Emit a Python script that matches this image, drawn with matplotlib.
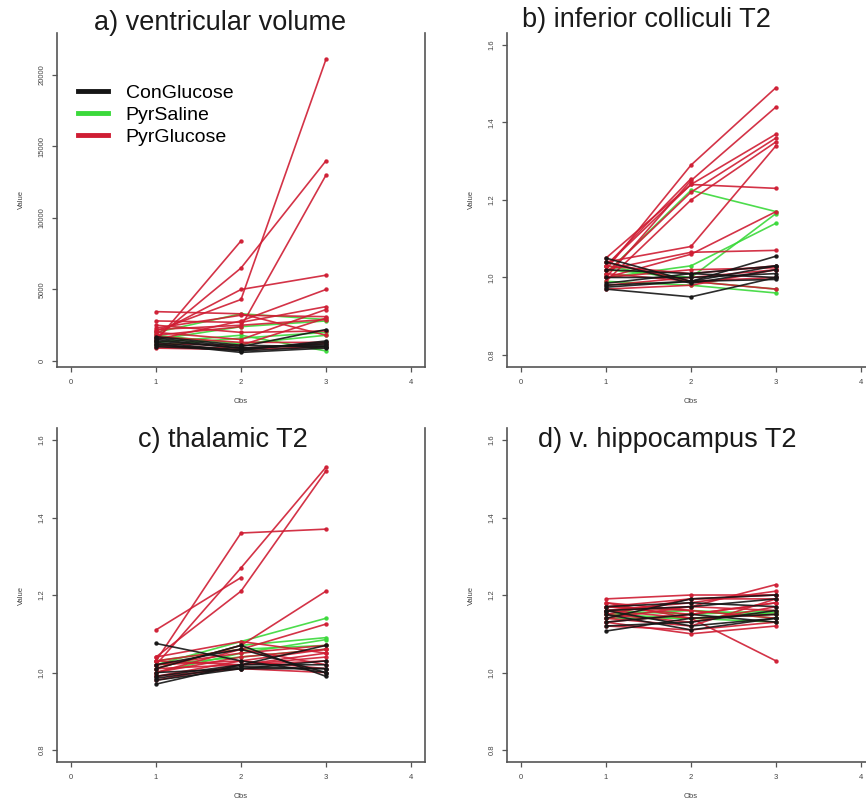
import numpy as np
import matplotlib
matplotlib.use("Agg")
import matplotlib.pyplot as plt
from matplotlib.lines import Line2D

plt.rcParams['font.family'] = ['Liberation Sans', 'DejaVu Sans']

nan = np.nan
obs = [1, 2, 3]

# group names and line colours
groups = ['ConGlucose', 'PyrSaline', 'PyrGlucose']
colours = {'ConGlucose': '#151515', 'PyrSaline': '#3ad93a', 'PyrGlucose': '#cf1d33'}

# a) ventricular volume, one row per animal, columns = Obs 1..3
vent_con = [[1500, 900, 1200], [1300, 700, 1000], [1100, 800, 1300], [1600, 1000, 2200],
            [1200, 600, 900], [1400, 900, 1100], [1000, 750, 1400], [1700, 1100, 1000]]
vent_sal = [[2000, 3300, 2900], [1500, 2400, 2800], [1300, 1800, 700],
            [1100, 1600, 2000], [1800, 1200, 1800]]
vent_pyr = [[1400, 8400, nan], [1600, 6500, 14000], [2100, 4300, 21100], [1800, 2400, 13000],
            [1900, 5000, 6000], [1500, 2800, 5000], [3450, 3300, 1800], [2800, 2700, 3800],
            [2300, 3200, 3100], [2000, 1500, 3600], [1200, 1100, 3000], [1000, 900, 1200],
            [2500, 2000, 2100], [1700, 1300, 1300], [900, 800, 1000], [2200, 2500, 2900]]

# b) inferior colliculi T2
ic_con = [[0.97, 0.95, 1.00], [0.98, 0.99, 1.055], [1.05, 0.99, 1.03], [0.985, 1.01, 1.00],
          [1.00, 1.00, 1.01], [0.975, 0.99, 0.995], [1.04, 0.985, 1.02], [1.02, 1.01, 1.03]]
ic_sal = [[1.01, 1.225, 1.17], [1.00, 1.03, 1.14], [0.99, 0.98, 0.96],
          [1.02, 1.00, 1.165], [1.03, 0.99, 0.97]]
ic_pyr = [[1.03, 1.255, nan], [1.02, 1.29, 1.49], [1.00, 1.25, 1.44], [1.03, 1.24, 1.37],
          [1.01, 1.22, 1.36], [0.99, 1.20, 1.35], [1.04, 1.08, 1.34], [1.05, 1.24, 1.23],
          [1.02, 1.065, 1.07], [1.00, 1.06, 1.17], [1.03, 1.01, 1.03], [1.01, 0.99, 0.97],
          [0.98, 1.00, 1.02], [1.04, 0.99, 1.00], [1.00, 1.02, 1.025], [0.97, 0.98, 1.02]]

# c) thalamic T2
th_con = [[1.075, 1.03, 1.00], [0.97, 1.02, 1.02], [0.98, 1.01, 1.01], [1.01, 1.07, 0.99],
          [1.00, 1.01, 1.03], [0.99, 1.02, 1.07], [1.02, 1.06, 1.00], [0.985, 1.015, 1.01]]
th_sal = [[1.02, 1.08, 1.14], [1.01, 1.07, 1.09], [1.00, 1.05, 1.085],
          [1.03, 1.06, 1.07], [1.02, 1.04, 1.06]]
th_pyr = [[1.11, 1.245, nan], [1.03, 1.36, 1.37], [1.02, 1.27, 1.53], [1.04, 1.21, 1.52],
          [1.01, 1.07, 1.21], [1.00, 1.06, 1.125], [1.02, 1.05, 1.07], [0.99, 1.03, 1.06],
          [1.03, 1.02, 1.05], [1.00, 1.04, 1.06], [1.02, 1.03, 1.01], [0.98, 1.02, 1.03],
          [1.04, 1.08, 1.05], [1.01, 1.02, 1.04], [1.03, 1.06, 1.02], [0.99, 1.01, 1.00]]

# d) v. hippocampus T2
hc_con = [[1.107, 1.14, 1.15], [1.14, 1.19, 1.20], [1.16, 1.12, 1.14], [1.15, 1.11, 1.14],
          [1.13, 1.15, 1.13], [1.17, 1.18, 1.17], [1.12, 1.13, 1.16], [1.16, 1.17, 1.19]]
hc_sal = [[1.15, 1.16, 1.14], [1.16, 1.15, 1.16], [1.14, 1.14, 1.13],
          [1.17, 1.16, 1.15], [1.15, 1.14, 1.155]]
hc_pyr = [[1.17, 1.16, nan], [1.19, 1.20, 1.20], [1.18, 1.14, 1.03], [1.16, 1.17, 1.227],
          [1.15, 1.19, 1.20], [1.14, 1.12, 1.19], [1.17, 1.15, 1.18], [1.13, 1.10, 1.12],
          [1.16, 1.18, 1.21], [1.15, 1.13, 1.17], [1.18, 1.16, 1.14], [1.14, 1.17, 1.16],
          [1.12, 1.11, 1.13], [1.17, 1.19, 1.19], [1.16, 1.14, 1.15], [1.13, 1.15, 1.18]]

panels = [
    ('a) ventricular volume', vent_con, vent_sal, vent_pyr),
    ('b) inferior colliculi T2', ic_con, ic_sal, ic_pyr),
    ('c) thalamic T2', th_con, th_sal, th_pyr),
    ('d) v. hippocampus T2', hc_con, hc_sal, hc_pyr),
]

x_ticks = [0, 1, 2, 3, 4]
vent_ticks = [0, 5000, 10000, 15000, 20000]
t2_ticks = [0.8, 1.0, 1.2, 1.4, 1.6]

fig = plt.figure(figsize=(8.66, 8.08), dpi=100)
pos = [[0.0663, 0.5458, 0.424, 0.4134], [0.5859, 0.5458, 0.424, 0.4134],
       [0.0663, 0.0569, 0.424, 0.4134], [0.5859, 0.0569, 0.424, 0.4134]]
title_xy = [(220, 23), (646, 20), (223, 440), (667, 440)]

for i, (title, con, sal, pyr) in enumerate(panels):
    ax = fig.add_axes(pos[i])
    for name, rows in (('PyrSaline', sal), ('PyrGlucose', pyr), ('ConGlucose', con)):
        for r in rows:
            ax.plot(obs, r, color=colours[name], lw=1.2, marker='o', ms=2.2,
                    alpha=0.9, solid_joinstyle='round')

    ax.set_xlim(-0.16, 4.16)
    ax.set_xticks(x_ticks)
    ax.set_xticklabels([str(t) for t in x_ticks])
    if i == 0:
        ax.set_ylim(-420, 22937)
        ax.set_yticks(vent_ticks)
        ax.set_yticklabels([str(t) for t in vent_ticks], rotation=90, va='center')
    else:
        ax.set_ylim(0.769, 1.631)
        ax.set_yticks(t2_ticks)
        ax.set_yticklabels(['%.1f' % t for t in t2_ticks], rotation=90, va='center')

    ax.spines['top'].set_visible(False)
    for s in ('left', 'bottom', 'right'):
        ax.spines[s].set_color('#555555')
        ax.spines[s].set_linewidth(1.2)
    ax.tick_params(axis='both', direction='out', length=3.5, width=0.9,
                   color='#555555', labelsize=5.5, labelcolor='#444444', pad=5)
    ax.tick_params(axis='y', right=False)
    ax.set_xlabel('Obs', fontsize=5.5, color='#444444', labelpad=9)
    ax.set_ylabel('Value', fontsize=5.5, color='#444444', labelpad=10)

    tx, ty = title_xy[i]
    fig.text(tx / 866, 1 - ty / 808, title, ha='center', va='center',
             fontsize=19.5, color='#1a1a1a')

    if i == 0:
        handles = [Line2D([0], [0], color=colours[g], lw=3.5) for g in groups]
        ax.legend(handles, groups, loc='upper left', bbox_to_anchor=(0.035, 0.87),
                  frameon=False, fontsize=14, handlelength=1.55, handletextpad=0.9,
                  labelspacing=0.22, borderaxespad=0)

fig.savefig('out.png', dpi=100)
